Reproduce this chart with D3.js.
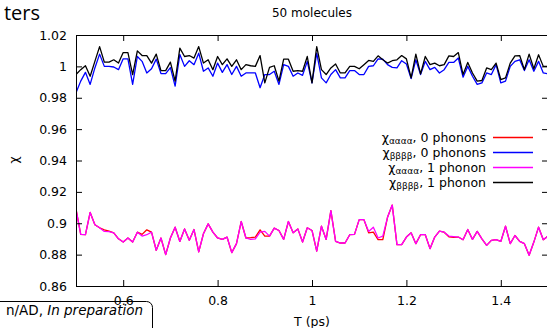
<!DOCTYPE html>
<html>
<head>
<meta charset="utf-8">
<script src="https://cdn.jsdelivr.net/npm/d3@7"></script>
<style>
body { margin: 0; background: #fff; }
svg { display: block; font-family: "DejaVu Sans", sans-serif; }
</style>
</head>
<body>
<svg id="myGraph" width="547" height="328"></svg>
<script>
// T (ps)
var T = [0.50, 0.51, 0.52, 0.53, 0.54, 0.55, 0.56, 0.57, 0.58, 0.59,
         0.60, 0.61, 0.62, 0.63, 0.64, 0.65, 0.66, 0.67, 0.68, 0.69,
         0.70, 0.71, 0.72, 0.73, 0.74, 0.75, 0.76, 0.77, 0.78, 0.79,
         0.80, 0.81, 0.82, 0.83, 0.84, 0.85, 0.86, 0.87, 0.88, 0.89,
         0.90, 0.91, 0.92, 0.93, 0.94, 0.95, 0.96, 0.97, 0.98, 0.99,
         1.00, 1.01, 1.02, 1.03, 1.04, 1.05, 1.06, 1.07, 1.08, 1.09,
         1.10, 1.11, 1.12, 1.13, 1.14, 1.15, 1.16, 1.17, 1.18, 1.19,
         1.20, 1.21, 1.22, 1.23, 1.24, 1.25, 1.26, 1.27, 1.28, 1.29,
         1.30, 1.31, 1.32, 1.33, 1.34, 1.35, 1.36, 1.37, 1.38, 1.39,
         1.40, 1.41, 1.42, 1.43, 1.44, 1.45, 1.46, 1.47, 1.48, 1.49,
         1.50]

// chi_aaaa, 0 phonons (red)
var chiA0 = [0.9090, 0.8929, 0.8927, 0.9069, 0.8990, 0.8971, 0.8958, 0.8950, 0.8939, 0.8901,
             0.8880, 0.8906, 0.8880, 0.8943, 0.8929, 0.8958, 0.8943, 0.8828, 0.8906, 0.8800,
             0.8906, 0.8975, 0.8884, 0.8964, 0.8891, 0.8960, 0.8817, 0.8933, 0.8996, 0.8943,
             0.8906, 0.8897, 0.8912, 0.8813, 0.8870, 0.9011, 0.8906, 0.8908, 0.8912, 0.8958,
             0.8918, 0.8918, 0.8969, 0.8954, 0.8897, 0.9011, 0.8939, 0.8964, 0.8880, 0.8971,
             0.8954, 0.8822, 0.8981, 0.8897, 0.9080, 0.8884, 0.8874, 0.8874, 0.8927, 0.8929,
             0.9023, 0.9023, 0.8939, 0.8943, 0.8895, 0.8895, 0.9038, 0.9116, 0.8864, 0.8864,
             0.8912, 0.8939, 0.8870, 0.8927, 0.8927, 0.8838, 0.8912, 0.8950, 0.8943, 0.8914,
             0.8910, 0.8912, 0.8895, 0.8960, 0.8897, 0.8948, 0.8901, 0.8859, 0.8891, 0.8895,
             0.8884, 0.8981, 0.8870, 0.8922, 0.8884, 0.8870, 0.8796, 0.8880, 0.8975, 0.8895,
             0.8918]

// chi_bbbb, 0 phonons (blue)
var chiB0 = [0.9832, 0.9906, 0.9962, 0.9885, 0.9990, 1.0078, 1.0000, 1.0000, 0.9996, 0.9979,
             1.0048, 1.0048, 0.9885, 1.0063, 1.0032, 0.9958, 0.9985, 1.0046, 0.9954, 0.9954,
             0.9992, 0.9874, 1.0076, 1.0000, 1.0036, 1.0011, 1.0084, 0.9969, 0.9990, 0.9937,
             1.0021, 0.9962, 1.0011, 0.9948, 1.0000, 0.9937, 0.9958, 0.9958, 0.9958, 0.9864,
             0.9948, 0.9948, 0.9969, 0.9885, 1.0011, 1.0000, 0.9937, 0.9958, 0.9943, 1.0032,
             0.9895, 1.0084, 0.9927, 0.9895, 0.9948, 0.9979, 0.9927, 0.9927, 0.9973, 0.9973,
             0.9948, 0.9948, 1.0000, 1.0004, 1.0048, 1.0046, 1.0011, 0.9994, 0.9990, 1.0036,
             1.0015, 0.9922, 1.0042, 0.9948, 1.0032, 0.9979, 0.9994, 0.9958, 0.9979, 1.0025,
             1.0025, 1.0053, 0.9931, 1.0000, 0.9937, 0.9885, 0.9895, 0.9958, 0.9948, 1.0011,
             0.9895, 0.9906, 1.0000, 1.0032, 1.0042, 0.9973, 1.0042, 0.9969, 1.0032, 0.9958,
             0.9952]

// chi_aaaa, 1 phonon (magenta)
var chiA1 = [0.9090, 0.8929, 0.8927, 0.9069, 0.8990, 0.8971, 0.8948, 0.8946, 0.8939, 0.8901,
             0.8880, 0.8906, 0.8880, 0.8943, 0.8918, 0.8927, 0.8943, 0.8828, 0.8906, 0.8800,
             0.8906, 0.8975, 0.8884, 0.8964, 0.8891, 0.8960, 0.8817, 0.8933, 0.8996, 0.8943,
             0.8906, 0.8897, 0.8912, 0.8813, 0.8870, 0.9011, 0.8906, 0.8897, 0.8901, 0.8943,
             0.8948, 0.8918, 0.8969, 0.8954, 0.8897, 0.9011, 0.8939, 0.8964, 0.8880, 0.8971,
             0.8954, 0.8822, 0.8981, 0.8897, 0.9080, 0.8884, 0.8874, 0.8874, 0.8927, 0.8929,
             0.9023, 0.9023, 0.8948, 0.8975, 0.8906, 0.8918, 0.9038, 0.9116, 0.8864, 0.8864,
             0.8912, 0.8939, 0.8870, 0.8927, 0.8927, 0.8838, 0.8912, 0.8950, 0.8943, 0.8918,
             0.8915, 0.8912, 0.8895, 0.8960, 0.8897, 0.8948, 0.8901, 0.8859, 0.8891, 0.8895,
             0.8884, 0.8981, 0.8870, 0.8922, 0.8884, 0.8870, 0.8796, 0.8880, 0.8975, 0.8895,
             0.8918]

// chi_bbbb, 1 phonon (black)
var chiB1 = [0.9948, 0.9979, 1.0004, 0.9937, 1.0032, 1.0126, 1.0027, 1.0027, 1.0042, 1.0021,
             1.0088, 1.0088, 0.9948, 1.0099, 1.0069, 1.0069, 1.0021, 1.0078, 0.9973, 0.9973,
             1.0027, 0.9906, 1.0116, 1.0063, 1.0069, 1.0053, 1.0126, 1.0021, 1.0042, 0.9979,
             1.0063, 1.0011, 1.0048, 1.0000, 1.0042, 0.9979, 1.0011, 1.0004, 1.0000, 1.0069,
             0.9895, 0.9994, 1.0004, 0.9906, 1.0046, 1.0046, 0.9969, 0.9973, 0.9969, 1.0063,
             0.9895, 1.0126, 0.9979, 0.9948, 0.9990, 1.0015, 0.9958, 0.9958, 1.0000, 1.0000,
             0.9985, 1.0011, 1.0038, 1.0032, 1.0067, 1.0042, 1.0021, 1.0036, 1.0042, 1.0069,
             1.0048, 0.9927, 1.0078, 0.9952, 1.0063, 1.0011, 1.0021, 1.0004, 1.0011, 1.0067,
             1.0063, 1.0088, 0.9948, 1.0025, 0.9958, 0.9906, 0.9910, 0.9990, 0.9979, 1.0021,
             0.9916, 0.9927, 1.0021, 1.0067, 1.0069, 0.9979, 1.0078, 0.9985, 1.0074, 1.0000,
             1.0000]

var xTicks = [0.6, 0.8, 1, 1.2, 1.4]
var yTicks = [0.86, 0.88, 0.9, 0.92, 0.94, 0.96, 0.98, 1, 1.02]
var subs = ["αααα", "ββββ", "αααα", "ββββ"]
var rests = [", 0 phonons", ", 0 phonons", ", 1 phonon", ", 1 phonon"]

var series = [
    {values: chiA0, color: "#ff0000"},
    {values: chiB0, color: "#0000ff"},
    {values: chiA1, color: "#ff00ff"},
    {values: chiB1, color: "#000000"}
]

var svg = d3.select("#myGraph")
var L = 76, R = 548, Tp = 35, B = 286
var fs = 12.5

var xScale = d3.scaleLinear().domain([0.5, 1.5]).range([L, R])
var yScale = d3.scaleLinear().domain([0.86, 1.02]).range([B, Tp])
var fmt = d => String(+d.toFixed(2))

// slide bits cut off at the edges
svg.append("text")
    .attr("x", 40).attr("y", 20)
    .attr("text-anchor", "end")
    .attr("font-size", 20)
    .attr("font-family", "Open Sans, sans-serif")
    .text("ters")

svg.append("text")
    .attr("x", (L + R) / 2).attr("y", 17)
    .attr("text-anchor", "middle")
    .attr("font-size", 12)
    .text("50 molecules")

svg.append("clipPath").attr("id", "clip")
    .append("rect")
    .attr("x", L).attr("y", Tp)
    .attr("width", R - L).attr("height", B - Tp)

var line = d3.line()
    .x((d, i) => xScale(T[i]))
    .y(d => yScale(d))

svg.append("g")
    .attr("clip-path", "url(#clip)")
    .selectAll("path")
    .data(series)
    .enter()
    .append("path")
    .attr("d", d => line(d.values))
    .attr("fill", "none")
    .attr("stroke", d => d.color)
    .attr("stroke-width", 1.3)
    .attr("stroke-linejoin", "round")

function styleAxis(g) {
    g.attr("font-size", fs).attr("font-family", "DejaVu Sans, sans-serif")
    g.selectAll("text").attr("fill", "#000")
    g.selectAll("line, path").attr("stroke", "#000")
}

svg.append("g")
    .attr("transform", "translate(" + L + ",0)")
    .call(d3.axisLeft(yScale).tickValues(yTicks).tickFormat(fmt)
        .tickSizeInner(-6).tickSizeOuter(0).tickPadding(9))
    .call(styleAxis)

svg.append("g")
    .attr("transform", "translate(" + R + ",0)")
    .call(d3.axisRight(yScale).tickValues(yTicks).tickFormat("")
        .tickSizeInner(-6).tickSizeOuter(0))
    .call(styleAxis)

svg.append("g")
    .attr("transform", "translate(0," + B + ")")
    .call(d3.axisBottom(xScale).tickValues(xTicks).tickFormat(fmt)
        .tickSizeInner(-6).tickSizeOuter(0).tickPadding(10))
    .call(styleAxis)

svg.append("g")
    .attr("transform", "translate(0," + Tp + ")")
    .call(d3.axisTop(xScale).tickValues(xTicks).tickFormat("")
        .tickSizeInner(-6).tickSizeOuter(0))
    .call(styleAxis)

svg.append("text")
    .attr("transform", "translate(18,160) rotate(-90)")
    .attr("text-anchor", "middle")
    .attr("font-size", fs)
    .text("χ")

svg.append("text")
    .attr("x", (L + R) / 2).attr("y", 326)
    .attr("text-anchor", "middle")
    .attr("font-size", fs)
    .text("T (ps)")

// legend
var leg = svg.append("g")
    .selectAll("g")
    .data(series)
    .enter()
    .append("g")
    .attr("transform", (d, i) => "translate(0," + (137.5 + i * 15) + ")")

leg.append("line")
    .attr("x1", 493).attr("x2", 533)
    .attr("stroke", d => d.color)
    .attr("stroke-width", 1.3)

var lt = leg.append("text")
    .attr("x", 486).attr("y", 4)
    .attr("text-anchor", "end")
    .attr("font-size", fs)
lt.append("tspan").text("χ")
lt.append("tspan").attr("font-size", 9).attr("dy", 2.5).text((d, i) => subs[i])
lt.append("tspan").attr("dy", -2.5).text((d, i) => rests[i])

// reference box bottom left
svg.append("rect")
    .attr("x", -10.5).attr("y", 301.5)
    .attr("width", 163).attr("height", 40)
    .attr("rx", 6)
    .attr("fill", "none")
    .attr("stroke", "#000")

var ref = svg.append("text")
    .attr("x", 143).attr("y", 315)
    .attr("text-anchor", "end")
    .attr("font-size", 13.5)
ref.append("tspan").text("n/AD, ")
ref.append("tspan").attr("font-style", "italic").text("In preparation")
</script>
</body>
</html>
